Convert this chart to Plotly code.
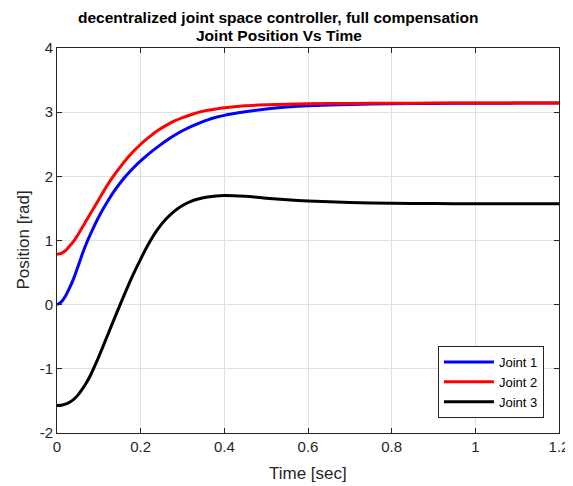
import plotly.graph_objects as go

t = [0, 0.01, 0.02, 0.03, 0.04, 0.05, 0.06, 0.07, 0.08, 0.10, 0.12, 0.14, 0.16, 0.18, 0.20,
     0.22, 0.24, 0.26, 0.28, 0.30, 0.32, 0.34, 0.36, 0.38, 0.40, 0.45, 0.50, 0.55, 0.60,
     0.70, 0.80, 0.90, 1.00, 1.10, 1.20]
joint1 = [0, 0.04, 0.13, 0.26, 0.41, 0.59, 0.78, 0.95, 1.10, 1.37, 1.60, 1.80, 1.97, 2.115,
          2.24, 2.355, 2.455, 2.55, 2.635, 2.71, 2.775, 2.83, 2.88, 2.92, 2.95, 3.005, 3.05,
          3.08, 3.10, 3.12, 3.13, 3.137, 3.14, 3.141, 3.1416]
joint2 = [0.785, 0.80, 0.84, 0.91, 0.99, 1.09, 1.20, 1.31, 1.42, 1.64, 1.86, 2.05, 2.22, 2.37,
          2.50, 2.61, 2.71, 2.79, 2.86, 2.915, 2.96, 3.00, 3.03, 3.05, 3.07, 3.10, 3.115,
          3.125, 3.13, 3.136, 3.139, 3.141, 3.1416, 3.1416, 3.1416]
joint3 = [-1.571, -1.567, -1.55, -1.52, -1.475, -1.41, -1.32, -1.22, -1.10, -0.81, -0.49,
          -0.17, 0.14, 0.44, 0.71, 0.96, 1.17, 1.33, 1.455, 1.545, 1.61, 1.65, 1.678, 1.694,
          1.70, 1.688, 1.66, 1.635, 1.615, 1.592, 1.581, 1.576, 1.573, 1.572, 1.571]

series = [("Joint 1", joint1, "#0000ff"), ("Joint 2", joint2, "#ff0000"), ("Joint 3", joint3, "#000000")]

x_ticks = [0, 0.2, 0.4, 0.6, 0.8, 1.0, 1.2]
x_ticklabels = ["0", "0.2", "0.4", "0.6", "0.8", "1", "1.2"]
y_ticks = [-2, -1, 0, 1, 2, 3, 4]
y_ticklabels = ["-2", "-1", "0", "1", "2", "3", "4"]
title_lines = ["decentralized joint space controller, full compensation", "Joint Position Vs Time"]
x_title = "Time [sec]"
y_title = "Position [rad]"

FONT = "Liberation Sans, Arial"

fig = go.Figure()
for name, vals, col in series:
    fig.add_trace(go.Scatter(x=t, y=vals, mode="lines", name=name,
                             line=dict(color=col, width=3, shape="spline", smoothing=0.5)))

axis_common = dict(showgrid=True, gridcolor="#e0e0e0", gridwidth=1, zeroline=False,
                   showline=True, linecolor="#262626", linewidth=1, mirror="allticks",
                   ticks="inside", ticklen=5, tickcolor="#262626", automargin=False,
                   tickfont=dict(family=FONT, size=15, color="#262626"))

# page body has an 8px margin, so the figure is sized/offset to compensate
fig.update_layout(
    width=565, height=478,
    margin=dict(l=49, r=14, t=40, b=53),
    paper_bgcolor="white", plot_bgcolor="white",
    font=dict(family=FONT, color="#262626"),
    xaxis=dict(range=[0, 1.2], tickvals=x_ticks, ticktext=x_ticklabels, **axis_common),
    yaxis=dict(range=[-2, 4], tickvals=y_ticks, ticktext=y_ticklabels, **axis_common),
    legend=dict(x=0.970, y=0.039, xanchor="right", yanchor="bottom",
                bgcolor="white", bordercolor="#262626", borderwidth=1,
                font=dict(family=FONT, size=13, color="#000000"),
                itemwidth=50, tracegroupgap=0),
    showlegend=True,
)

for i, line in enumerate(title_lines):
    fig.add_annotation(text="<b>" + line + "</b>", xref="paper", yref="paper",
                       x=0.442, y=1.0805 - i * 0.0475, xanchor="center", yanchor="middle",
                       showarrow=False, font=dict(family=FONT, size=15.5, color="#000000"))

fig.add_annotation(text=x_title, xref="paper", yref="paper", x=0.5, y=-0.104,
                   xanchor="center", yanchor="middle", showarrow=False,
                   font=dict(family=FONT, size=17, color="#262626"))
fig.add_annotation(text=y_title, xref="paper", yref="paper", x=-0.0677, y=0.5,
                   xanchor="center", yanchor="middle", textangle=-90, showarrow=False,
                   font=dict(family=FONT, size=17, color="#262626"))

fig.write_html("out.html")
